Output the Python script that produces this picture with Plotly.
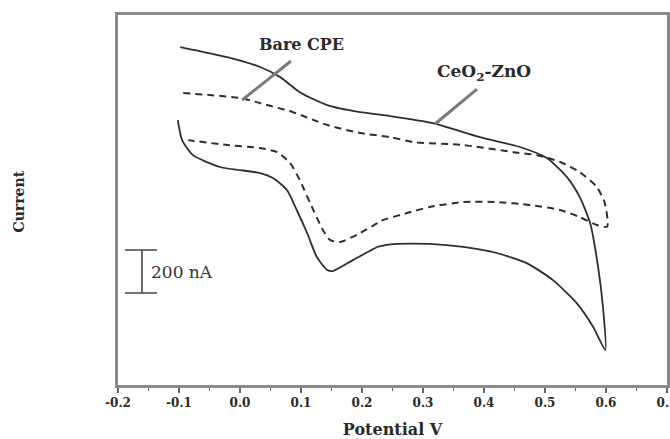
import plotly.graph_objects as go

# CeO2-ZnO (solid) cyclic voltammogram: forward then reverse scan
ceo2_zno_potential = [-0.098, -0.021, 0.033, 0.066, 0.098, 0.143, 0.197, 0.246, 0.316, 0.393,
                      0.459, 0.503, 0.536, 0.557, 0.574, 0.587, 0.595, 0.599,
                      0.579, 0.552, 0.513, 0.470, 0.421, 0.366, 0.311, 0.257, 0.230, 0.225,
                      0.185, 0.152, 0.143, 0.126, 0.110, 0.093, 0.077, 0.054, 0.033, -0.033,
                      -0.077, -0.095, -0.102]
ceo2_zno_current = [1586, 1539, 1493, 1446, 1376, 1316, 1283, 1265, 1232, 1167,
                    1121, 1070, 981, 888, 767, 563, 377, 177,
                    284, 395, 502, 581, 628, 656, 670, 670, 660, 656,
                    595, 544, 549, 609, 721, 828, 921, 977, 1000, 1028,
                    1083, 1153, 1246]

# Bare CPE (dashed) cyclic voltammogram
bare_potential = [-0.093, 0.0, 0.033, 0.087, 0.143, 0.197, 0.246, 0.284, 0.366, 0.448,
                  0.487, 0.525, 0.557, 0.585, 0.598, 0.602,
                  0.585, 0.557, 0.525, 0.475, 0.421, 0.366, 0.311, 0.274, 0.230, 0.225,
                  0.197, 0.164, 0.148, 0.136, 0.115, 0.098, 0.082, 0.061, 0.033, -0.021,
                  -0.085]
bare_current = [1372, 1349, 1325, 1283, 1223, 1186, 1167, 1144, 1130, 1097,
                1083, 1051, 1004, 935, 860, 751,
                758, 795, 828, 851, 865, 865, 842, 814, 777, 767,
                721, 679, 688, 735, 860, 967, 1046, 1097, 1116, 1130,
                1153]

x_ticks = [-0.2, -0.1, 0.0, 0.1, 0.2, 0.3, 0.4, 0.5, 0.6, 0.7]
x_tick_labels = ["-0.2", "-0.1", "0.0", "0.1", "0.2", "0.3", "0.4", "0.5", "0.6", "0.7"]

SERIF = "DejaVu Serif, serif"
LINE = "#2e2e2e"
FRAME = "#8a8a8a"
POINTER = "#7a7a7a"
TEXT = "#2a2a2a"

fig = go.Figure()
fig.add_trace(go.Scatter(x=ceo2_zno_potential, y=ceo2_zno_current, mode="lines",
                         line=dict(color=LINE, width=1.8, shape="spline", smoothing=0.6),
                         name="CeO2-ZnO", showlegend=False))
fig.add_trace(go.Scatter(x=bare_potential, y=bare_current, mode="lines",
                         line=dict(color=LINE, width=2, dash="7px,5px", shape="spline", smoothing=0.6),
                         name="Bare CPE", showlegend=False))

# scale bar 200 nA
fig.add_shape(type="line", x0=-0.1607, x1=-0.1607, y0=442, y1=642, xref="x", yref="y",
              line=dict(color="#444", width=1.6))
fig.add_shape(type="line", x0=-0.1885, x1=-0.136, y0=442, y1=442, xref="x", yref="y",
              line=dict(color="#444", width=1.6))
fig.add_shape(type="line", x0=-0.1885, x1=-0.136, y0=642, y1=642, xref="x", yref="y",
              line=dict(color="#444", width=1.6))
fig.add_annotation(x=-0.150, y=539, text="200 nA", showarrow=False, xanchor="left",
                   font=dict(family=SERIF, size=17, color="#333"))

# pointer lines
fig.add_shape(type="line", x0=0.0836, y0=1521, x1=0.0033, y1=1339, xref="x", yref="y",
              line=dict(color=POINTER, width=3))
fig.add_shape(type="line", x0=0.3885, y0=1390, x1=0.3197, y1=1228, xref="x", yref="y",
              line=dict(color=POINTER, width=3))
fig.add_annotation(x=0.100, y=1600, text="Bare CPE", showarrow=False,
                   font=dict(family=SERIF, size=16, color=TEXT, weight="bold"))
fig.add_annotation(x=0.400, y=1469, text="CeO<sub>2</sub>-ZnO", showarrow=False,
                   font=dict(family=SERIF, size=17, color=TEXT, weight="bold"))

fig.update_layout(
    width=670, height=439,
    margin=dict(l=118, r=3, t=15, b=54, autoexpand=False),
    paper_bgcolor="white", plot_bgcolor="white",
    xaxis=dict(range=[-0.2, 0.7], tickvals=x_ticks, ticktext=x_tick_labels,
               ticks="outside", ticklen=5, tickwidth=1.5, tickcolor="#666",
               minor=dict(dtick=0.05, ticks="outside", ticklen=3, tickwidth=1.2, tickcolor="#666"),
               showline=True, linecolor=FRAME, linewidth=2.5, mirror=True,
               showgrid=False, zeroline=False, ticklabeloverflow="allow", automargin=False,
               tickfont=dict(family=SERIF, size=12, color=TEXT, weight="bold"),
               title=dict(text="Potential V",
                          font=dict(family=SERIF, size=16, color=TEXT, weight="bold"),
                          standoff=17)),
    yaxis=dict(range=[14, 1735], showticklabels=False, ticks="", automargin=False,
               showline=True, linecolor=FRAME, linewidth=2.5, mirror=True,
               showgrid=False, zeroline=False),
)
fig.add_annotation(x=(18.5 - 118) / 549, y=(385 - 202) / 370, xref="paper", yref="paper",
                   xanchor="center", yanchor="middle",
                   text="Current", showarrow=False, textangle=-90,
                   font=dict(family=SERIF, size=14, color=TEXT, weight="bold"))

fig.write_html(
    "out.html",
    config={"displayModeBar": False},
    post_script=("document.body.style.margin='0';"
                 "document.body.style.overflow='hidden';"
                 "document.documentElement.style.overflow='hidden';"),
)
